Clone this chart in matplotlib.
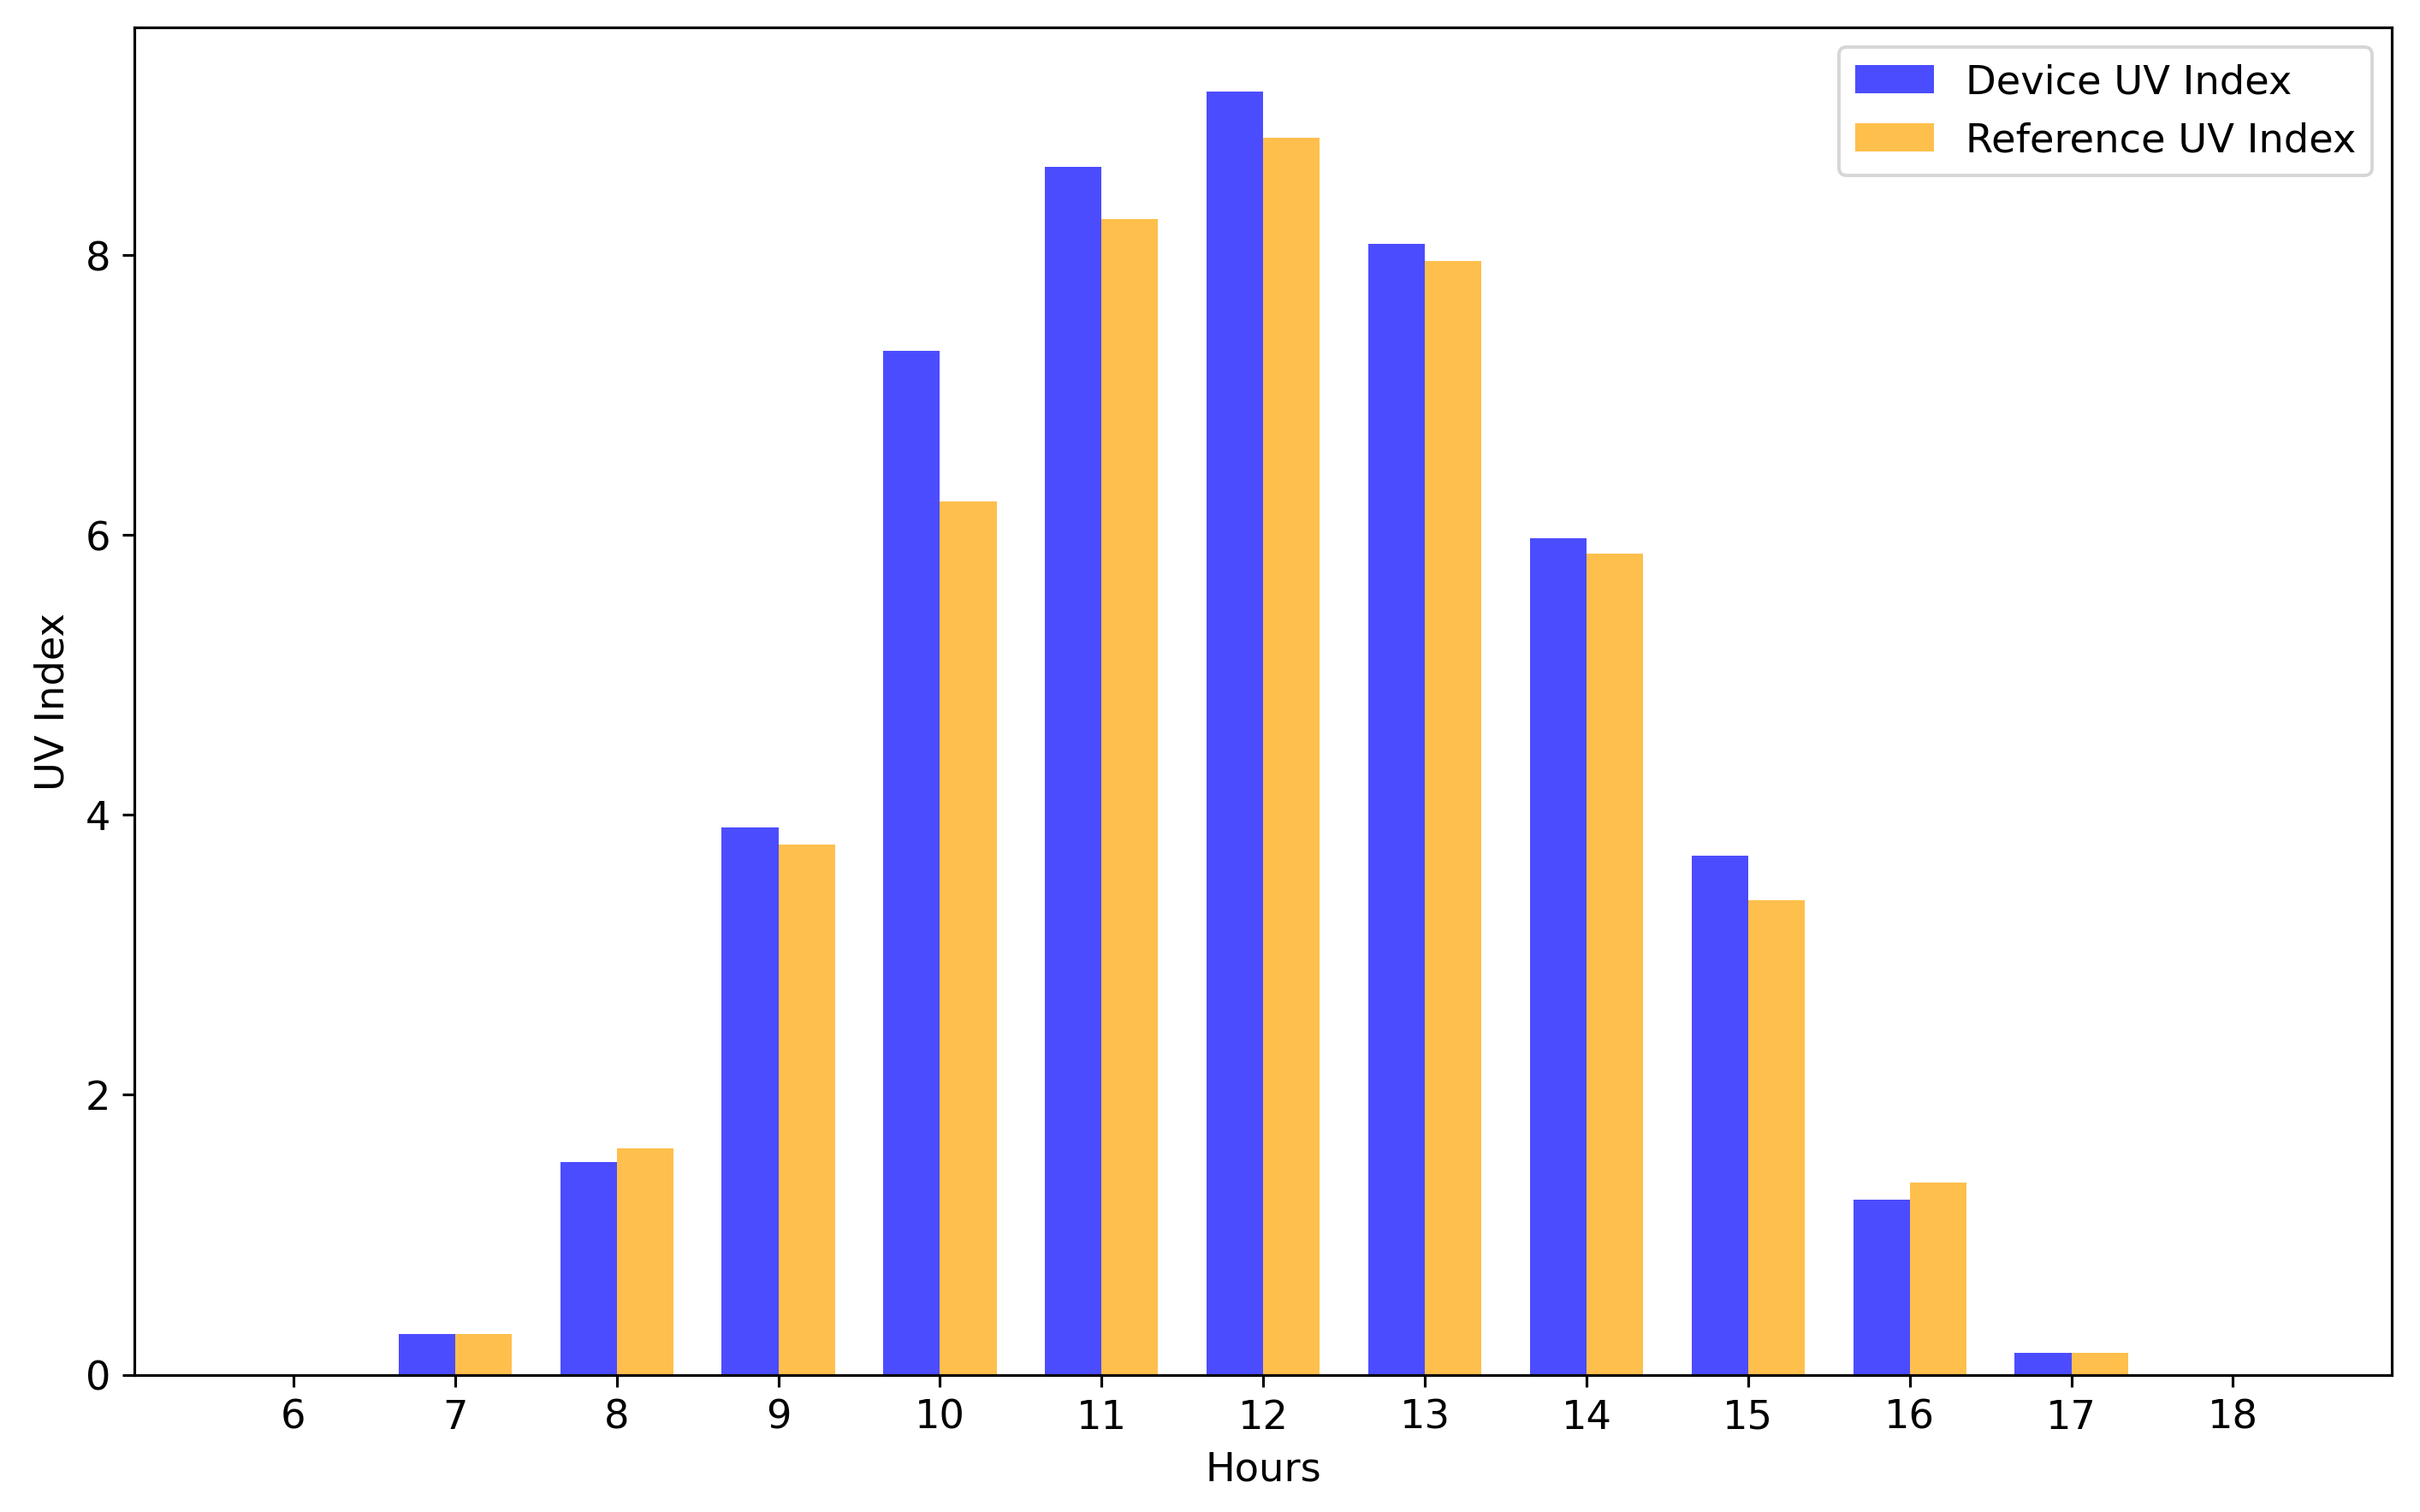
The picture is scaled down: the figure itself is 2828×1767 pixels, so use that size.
import numpy as np
import matplotlib
matplotlib.use("Agg")
import matplotlib.pyplot as plt

# Dados
hours = [6, 7, 8, 9, 10, 11, 12, 13, 14, 15, 16, 17, 18]
device_uv = [0.0, 0.29, 1.52, 3.91, 7.32, 8.63, 9.17, 8.08, 5.98, 3.71, 1.25, 0.155, 0.0]
reference_uv = [0.0, 0.29, 1.62, 3.79, 6.24, 8.26, 8.84, 7.96, 5.87, 3.39, 1.37, 0.155, 0.0]

width = 0.35
x = np.array(hours)

plt.rcParams['font.size'] = 11.8

fig, ax = plt.subplots(figsize=(10, 6.25), dpi=282.8)
fig.subplots_adjust(left=0.0555, right=0.9885, top=0.9816, bottom=0.0908)

ax.bar(x - width / 2, device_uv, width, color='blue', alpha=0.7, label='Device UV Index')
ax.bar(x + width / 2, reference_uv, width, color='orange', alpha=0.7, label='Reference UV Index')

ax.set_xticks(hours)
ax.set_xlabel('Hours')
ax.set_ylabel('UV Index')
ax.legend(loc='upper right')

fig.savefig('out.png', dpi=282.8)
